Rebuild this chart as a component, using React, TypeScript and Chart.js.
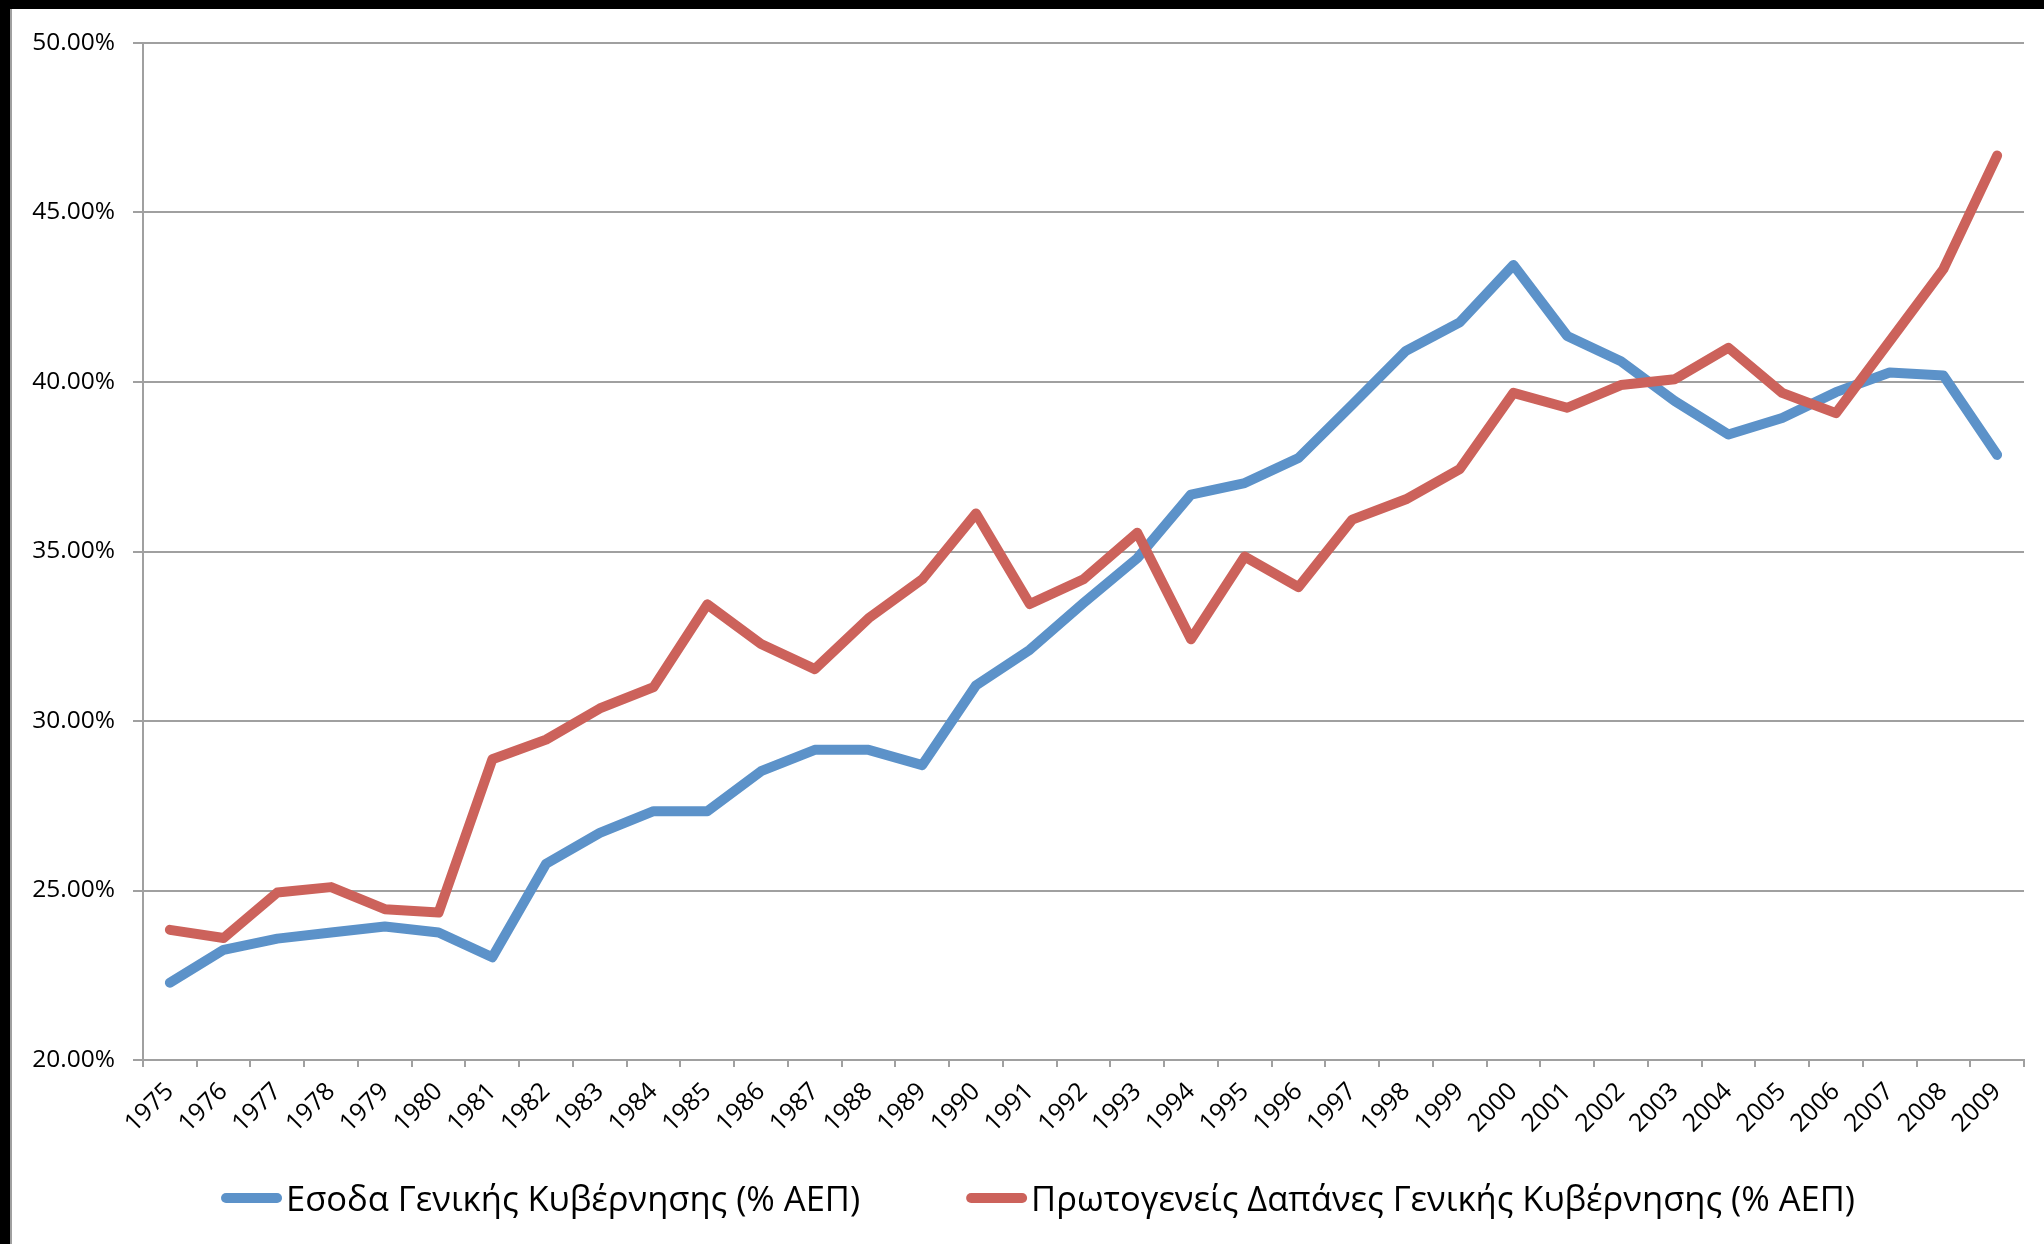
import React, { useEffect, useRef } from "react";
import { Chart, registerables } from "chart.js";

Chart.register(...registerables);

const years = [
  "1975", "1976", "1977", "1978", "1979", "1980", "1981", "1982", "1983", "1984",
  "1985", "1986", "1987", "1988", "1989", "1990", "1991", "1992", "1993", "1994",
  "1995", "1996", "1997", "1998", "1999", "2000", "2001", "2002", "2003", "2004",
  "2005", "2006", "2007", "2008", "2009",
];

const revenueLabel = "Εσοδα Γενικής Κυβέρνησης (% ΑΕΠ)";
const revenue = [
  22.28, 23.25, 23.58, 23.76, 23.94, 23.76, 23.03, 25.79, 26.7, 27.34,
  27.34, 28.52, 29.15, 29.15, 28.7, 31.05, 32.1, 33.48, 34.8, 36.68,
  37.02, 37.76, 39.33, 40.92, 41.76, 43.45, 41.36, 40.61, 39.44, 38.45,
  38.94, 39.7, 40.28, 40.19, 37.85,
];

const spendingLabel = "Πρωτογενείς Δαπάνες Γενικής Κυβέρνησης (% ΑΕΠ)";
const spending = [
  23.84, 23.6, 24.94, 25.1, 24.45, 24.35, 28.87, 29.45, 30.37, 31.0,
  33.44, 32.27, 31.53, 33.03, 34.18, 36.12, 33.45, 34.18, 35.55, 32.41,
  34.85, 33.95, 35.94, 36.54, 37.43, 39.68, 39.24, 39.91, 40.08, 41.01,
  39.68, 39.08, 41.2, 43.33, 46.68,
];

const yMin = 20;
const yMax = 50;
const yStep = 5;

const BLUE = "#5c92c9";
const RED = "#cc625b";
const GRID = "#a0a0a0";
const FONT = '"Open Sans", "DejaVu Sans", sans-serif';

const legendPlugin = {
  id: "customLegend",
  afterDraw(chart: any) {
    const ctx = chart.ctx as CanvasRenderingContext2D;
    const fontSize = 34.5;
    ctx.save();
    ctx.font = `${fontSize}px ${FONT}`;
    const marker = 61;
    const gap = 4;
    const itemGap = 106;
    const items = chart.data.datasets.map((ds: any) => ({
      label: ds.label as string,
      color: ds.borderColor as string,
      w: ctx.measureText(ds.label).width,
    }));
    const total =
      items.reduce((s: number, it: any) => s + marker + gap + it.w, 0) +
      itemGap * (items.length - 1);
    let x = chart.width / 2 + 10 - total / 2;
    const y = chart.chartArea.bottom + 141;
    ctx.textBaseline = "middle";
    ctx.textAlign = "left";
    for (const it of items) {
      ctx.strokeStyle = it.color;
      ctx.lineWidth = 10;
      ctx.lineCap = "round";
      ctx.beginPath();
      ctx.moveTo(x + 5, y - 3);
      ctx.lineTo(x + marker - 5, y - 3);
      ctx.stroke();
      ctx.fillStyle = "#000";
      ctx.fillText(it.label, x + marker + gap, y);
      x += marker + gap + it.w + itemGap;
    }
    ctx.restore();
  },
};

export default function App() {
  const canvasRef = useRef<HTMLCanvasElement | null>(null);

  useEffect(() => {
    document.body.style.margin = "0";
    const canvas = canvasRef.current;
    if (!canvas) return;
    const chart = new Chart(canvas, {
      type: "line",
      data: {
        labels: years,
        datasets: [
          {
            label: revenueLabel,
            data: revenue,
            borderColor: BLUE,
            backgroundColor: BLUE,
            borderWidth: 10,
            pointRadius: 0,
            borderCapStyle: "round",
            borderJoinStyle: "round",
            tension: 0,
            order: 2,
          },
          {
            label: spendingLabel,
            data: spending,
            borderColor: RED,
            backgroundColor: RED,
            borderWidth: 10,
            pointRadius: 0,
            borderCapStyle: "round",
            borderJoinStyle: "round",
            tension: 0,
            order: 1,
          },
        ],
      },
      options: {
        responsive: false,
        animation: false,
        events: [],
        layout: { padding: { left: 0, right: 20, top: 34, bottom: 0 } },
        plugins: {
          legend: { display: false },
          tooltip: { enabled: false },
          title: { display: false },
        },
        scales: {
          x: {
            type: "category",
            offset: true,
            grid: {
              display: true,
              offset: true,
              drawOnChartArea: false,
              drawTicks: true,
              tickLength: 7,
              color: GRID,
              lineWidth: 2,
            },
            border: { display: true, color: GRID, width: 2 },
            ticks: {
              autoSkip: false,
              minRotation: 45,
              maxRotation: 45,
              padding: 10,
              color: "#000",
              font: { family: FONT, size: 25 },
            },
            afterFit(scale: any) {
              scale.height = 184;
            },
          },
          y: {
            min: yMin,
            max: yMax,
            ticks: {
              stepSize: yStep,
              padding: 18,
              color: "#000",
              font: { family: FONT, size: 24.5 },
              callback: (v: any) => Number(v).toFixed(2) + "%",
            },
            grid: {
              color: GRID,
              lineWidth: 2,
              drawTicks: true,
              tickLength: 10,
            },
            border: { display: true, color: GRID, width: 2 },
            afterFit(scale: any) {
              scale.width = 131;
            },
          },
        },
      },
      plugins: [legendPlugin],
    });
    return () => chart.destroy();
  }, []);

  return (
    <div
      style={{
        background: "#000",
        paddingTop: 9,
        paddingLeft: 10,
        width: 2044,
        height: 1244,
        boxSizing: "border-box",
        overflow: "hidden",
      }}
    >
      <div
        style={{
          borderLeft: `2px solid ${GRID}`,
          background: "#fff",
          width: 2032,
          height: 1235,
        }}
      >
        <canvas ref={canvasRef} width={2032} height={1235} style={{ display: "block" }} />
      </div>
    </div>
  );
}
